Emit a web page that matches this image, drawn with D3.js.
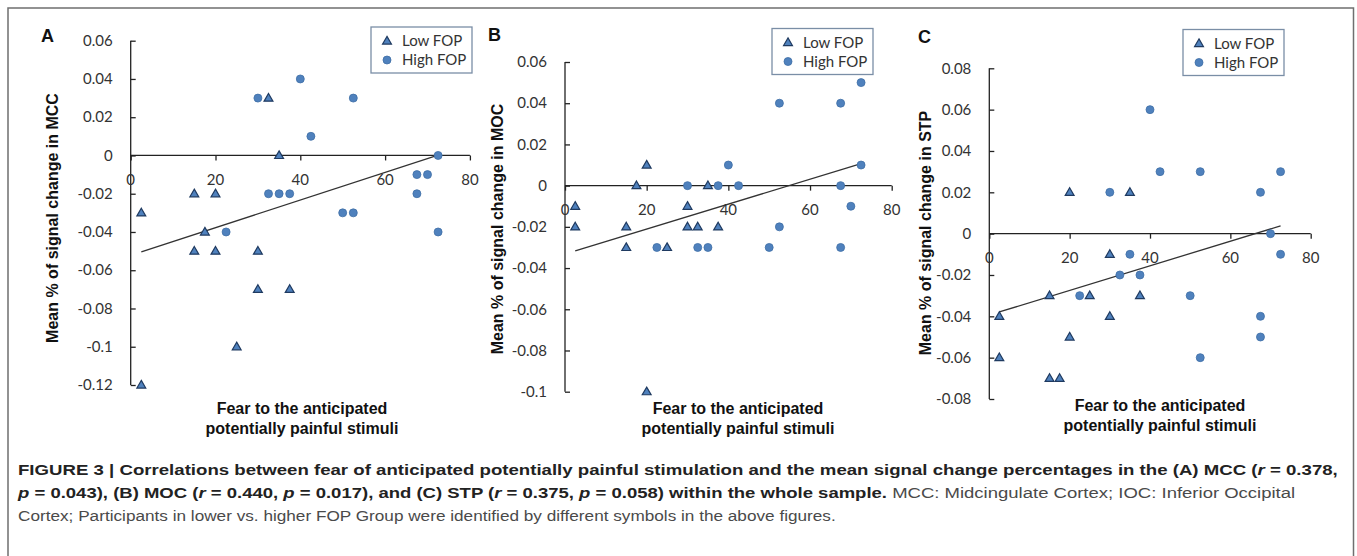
<!DOCTYPE html>
<html>
<head>
<meta charset="utf-8">
<style>
    body { margin: 0; background: #fff; }
    svg { display: block; }
    .tick-label { font-family: Lato, 'Open Sans', sans-serif; font-size: 15px; fill: #333; }
    .axis-title { font-family: 'Liberation Sans', Arial, sans-serif; font-size: 16px; font-weight: bold; fill: #111; }
    .panel-letter { font-family: 'Liberation Sans', Arial, sans-serif; font-size: 18px; font-weight: bold; fill: #111; }
    .legend-text { font-family: Lato, 'Open Sans', sans-serif; font-size: 15px; fill: #333; }
    .caption { font-family: 'Liberation Sans', Arial, sans-serif; font-size: 15.5px; fill: #4a4a4a; }
    .caption .b { font-weight: bold; fill: #222; }
</style>
</head>
<body>
<svg width="1357" height="556"></svg>

<script src="https://d3js.org/d3.v7.min.js"></script>
<script>
    // values: [fear score, mean % signal change]
    let lowA = [[2.5, -0.03], [2.5, -0.12], [15, -0.02], [20, -0.02], [17.5, -0.04], [15, -0.05],
        [20, -0.05], [30, -0.05], [30, -0.07], [37.5, -0.07], [25, -0.1], [32.5, 0.03], [35, 0]]
    let highA = [[30, 0.03], [40, 0.04], [52.5, 0.03], [42.5, 0.01], [72.5, 0], [67.5, -0.01],
        [70, -0.01], [67.5, -0.02], [32.5, -0.02], [35, -0.02], [37.5, -0.02], [50, -0.03],
        [52.5, -0.03], [22.5, -0.04], [72.5, -0.04]]

    let lowB = [[20, 0.01], [17.5, 0], [35, 0], [2.5, -0.01], [30, -0.01], [2.5, -0.02], [15, -0.02],
        [30, -0.02], [32.5, -0.02], [37.5, -0.02], [15, -0.03], [25, -0.03], [20, -0.1]]
    let highB = [[72.5, 0.05], [52.5, 0.04], [67.5, 0.04], [40, 0.01], [72.5, 0.01], [30, 0],
        [37.5, 0], [42.5, 0], [67.5, 0], [70, -0.01], [52.5, -0.02], [22.5, -0.03], [32.5, -0.03],
        [35, -0.03], [50, -0.03], [67.5, -0.03]]

    let lowC = [[20, 0.02], [35, 0.02], [30, -0.01], [15, -0.03], [25, -0.03], [37.5, -0.03],
        [2.5, -0.04], [30, -0.04], [20, -0.05], [2.5, -0.06], [15, -0.07], [17.5, -0.07]]
    let highC = [[40, 0.06], [42.5, 0.03], [52.5, 0.03], [72.5, 0.03], [30, 0.02], [67.5, 0.02],
        [70, 0], [72.5, -0.01], [35, -0.01], [32.5, -0.02], [37.5, -0.02], [22.5, -0.03],
        [50, -0.03], [67.5, -0.04], [67.5, -0.05], [52.5, -0.06]]

    let xTicks = [0, 20, 40, 60, 80]
    let yTicksA = [-0.12, -0.1, -0.08, -0.06, -0.04, -0.02, 0, 0.02, 0.04, 0.06]
    let yTicksB = [-0.1, -0.08, -0.06, -0.04, -0.02, 0, 0.02, 0.04, 0.06]
    let yTicksC = [-0.08, -0.06, -0.04, -0.02, 0, 0.02, 0.04, 0.06, 0.08]

    let legendLabels = ["Low FOP", "High FOP"]
    let regions = ["MCC", "MOC", "STP"]
    let letters = ["A", "B", "C"]

    let svg = d3.select("svg")

    // outer frame
    svg.append("rect")
        .attr("x", 8).attr("y", 8)
        .attr("width", 1345.5).attr("height", 570)
        .attr("fill", "none")
        .attr("stroke", "#6f6f6f")
        .attr("stroke-width", 1.5)

    // layout of each panel (pixels)
    let panels = [
        { low: lowA, high: highA, yTicks: yTicksA, x0: 130.7, x1: 469.9, yTop: 40.7, yBot: 385,
          legend: [371, 27], letter: [41, 42], yTitle: [58, 218], xTitle: [302, 414] },
        { low: lowB, high: highB, yTicks: yTicksB, x0: 565, x1: 891.7, yTop: 62, yBot: 391.7,
          legend: [772, 28.5], letter: [488, 41], yTitle: [503, 229], xTitle: [738, 414] },
        { low: lowC, high: highC, yTicks: yTicksC, x0: 989.3, x1: 1310.7, yTop: 68.3, yBot: 399,
          legend: [1183, 29.5], letter: [918, 43], yTitle: [931, 233], xTitle: [1160, 411] }
    ]

    let fmt = d => d === 0 ? "0" : String(+d.toFixed(2))

    let triangle = d3.symbol().type(d3.symbolTriangle).size(34)

    function drawMarker(g, kind, x, y) {
        if (kind == "low") {
            g.append("path")
                .attr("d", triangle())
                .attr("transform", `translate(${x},${y + 0.5})`)
                .attr("fill", "#4f81bd")
                .attr("stroke", "#1f3a60")
                .attr("stroke-width", 1.2)
        } else {
            g.append("circle")
                .attr("cx", x).attr("cy", y).attr("r", 4)
                .attr("fill", "#4f81bd")
                .attr("stroke", "#3f6fa6")
                .attr("stroke-width", 0.8)
        }
    }

    panels.forEach((p, i) => {
        let g = svg.append("g")

        let x = d3.scaleLinear().domain([0, 80]).range([p.x0, p.x1])
        let ext = d3.extent(p.yTicks)
        let y = d3.scaleLinear().domain(ext).range([p.yBot, p.yTop])

        // y axis, ticks pointing inward
        let yAxis = g.append("g")
            .attr("transform", `translate(${p.x0},0)`)
            .call(d3.axisRight(y).tickValues(p.yTicks).tickSize(5).tickFormat(""))
        yAxis.select(".domain").attr("stroke", "#222").attr("stroke-width", 1.3)
            .attr("d", `M0,${y(ext[0])}V${y(ext[1])}`)
        yAxis.selectAll(".tick line").attr("stroke", "#222").attr("stroke-width", 1.3)

        g.selectAll(".ylab")
            .data(p.yTicks)
            .join("text")
            .attr("class", "tick-label")
            .attr("x", p.x0 - 18)
            .attr("y", d => y(d))
            .attr("dy", "0.35em")
            .attr("text-anchor", "end")
            .text(fmt)

        // x axis at y = 0, ticks pointing down
        let xAxis = g.append("g")
            .attr("transform", `translate(0,${y(0)})`)
            .call(d3.axisBottom(x).tickValues(xTicks).tickSize(5).tickFormat(""))
        xAxis.select(".domain").attr("stroke", "#222").attr("stroke-width", 1.3)
            .attr("d", `M${p.x0},0H${p.x1}`)
        xAxis.selectAll(".tick line").attr("stroke", "#222").attr("stroke-width", 1.3)

        g.selectAll(".xlab")
            .data(xTicks)
            .join("text")
            .attr("class", "tick-label")
            .attr("x", d => x(d))
            .attr("y", y(0) + 24)
            .attr("dy", "0.35em")
            .attr("text-anchor", "middle")
            .text(d => d)

        // least squares trend line over all participants
        let all = p.low.concat(p.high)
        let mx = d3.mean(all, d => d[0])
        let my = d3.mean(all, d => d[1])
        let slope = d3.sum(all, d => (d[0] - mx) * (d[1] - my)) / d3.sum(all, d => (d[0] - mx) ** 2)
        let xr = d3.extent(all, d => d[0])
        g.append("line")
            .attr("x1", x(xr[0])).attr("y1", y(my + slope * (xr[0] - mx)))
            .attr("x2", x(xr[1])).attr("y2", y(my + slope * (xr[1] - mx)))
            .attr("stroke", "#333")
            .attr("stroke-width", 1.3)

        p.high.forEach(d => drawMarker(g, "high", x(d[0]), y(d[1])))
        p.low.forEach(d => drawMarker(g, "low", x(d[0]), y(d[1])))

        // legend
        let lg = g.append("g").attr("transform", `translate(${p.legend[0]},${p.legend[1]})`)
        lg.append("rect")
            .attr("width", 101).attr("height", 46)
            .attr("fill", "white")
            .attr("stroke", "#7a8ea6")
            .attr("stroke-width", 1.3)
        legendLabels.forEach((lab, j) => {
            drawMarker(lg, j == 0 ? "low" : "high", 16, 14 + j * 19)
            lg.append("text")
                .attr("class", "legend-text")
                .attr("x", 31)
                .attr("y", 14 + j * 19)
                .attr("dy", "0.35em")
                .text(lab)
        })

        // titles
        g.append("text")
            .attr("class", "panel-letter")
            .attr("x", p.letter[0]).attr("y", p.letter[1])
            .text(letters[i])

        g.append("text")
            .attr("class", "axis-title")
            .attr("transform", `translate(${p.yTitle[0]},${p.yTitle[1]}) rotate(-90)`)
            .attr("text-anchor", "middle")
            .text("Mean % of signal change in " + regions[i])

        let xt = g.append("text")
            .attr("class", "axis-title")
            .attr("text-anchor", "middle")
        xt.append("tspan").attr("x", p.xTitle[0]).attr("y", p.xTitle[1]).text("Fear to the anticipated")
        xt.append("tspan").attr("x", p.xTitle[0]).attr("y", p.xTitle[1] + 20).text("potentially painful stimuli")
    })

    // caption, each line squeezed to the width it has in the figure
    let captionLines = [
        { y: 475, len: 1321, parts: [
            ["b", "FIGURE 3 | Correlations between fear of anticipated potentially painful stimulation and the mean signal change percentages in the (A) MCC ("],
            ["bi", "r"], ["b", " = 0.378,"]] },
        { y: 498, len: 1279, parts: [
            ["bi", "p"], ["b", " = 0.043), (B) MOC ("], ["bi", "r"], ["b", " = 0.440, "], ["bi", "p"],
            ["b", " = 0.017), and (C) STP ("], ["bi", "r"], ["b", " = 0.375, "], ["bi", "p"],
            ["b", " = 0.058) within the whole sample."],
            ["n", " MCC: Midcingulate Cortex; IOC: Inferior Occipital"]] },
        { y: 521, len: 818, parts: [
            ["n", "Cortex; Participants in lower vs. higher FOP Group were identified by different symbols in the above figures."]] }
    ]

    captionLines.forEach(line => {
        let g = svg.append("g")
        let t = g.append("text")
            .attr("class", "caption")
            .attr("x", 0)
            .attr("y", 0)
        line.parts.forEach(([k, s]) => {
            let ts = t.append("tspan").text(s)
            if (k[0] == "b") ts.attr("class", "b")
            if (k == "bi") ts.style("font-style", "italic")
        })
        let w = t.node().getBBox().width
        g.attr("transform", `translate(18,${line.y}) scale(${line.len / w},1)`)
    })
</script>
</body>
</html>
